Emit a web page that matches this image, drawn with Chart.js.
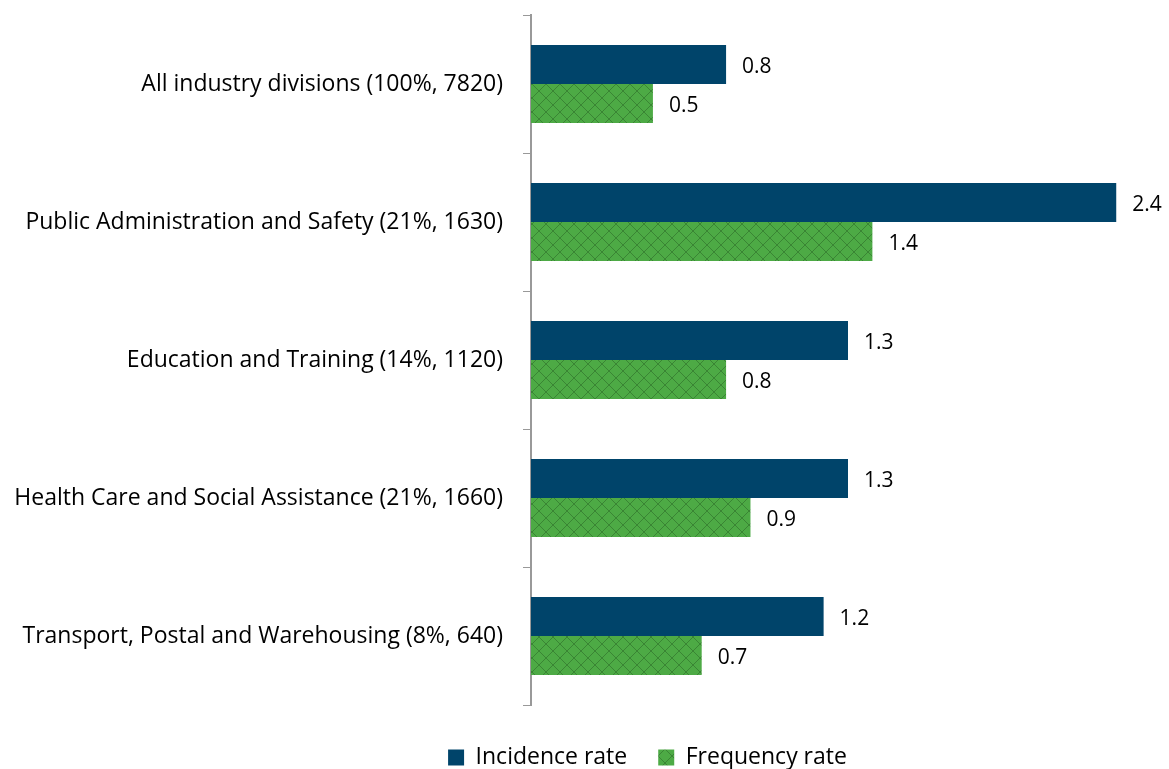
<!DOCTYPE html>
<html>
<head>
<meta charset="utf-8">
<script src="https://cdn.jsdelivr.net/npm/chart.js@4"></script>
<style>
  html, body { margin: 0; padding: 0; background: #fff; }
  #wrap { width: 1169px; height: 769px; }
</style>
</head>
<body>
<div id="wrap"><canvas id="myChart" width="1169" height="769"></canvas></div>
<script>
// data
const categories = [
  'All industry divisions (100%, 7820)',
  'Public Administration and Safety (21%, 1630)',
  'Education and Training (14%, 1120)',
  'Health Care and Social Assistance (21%, 1660)',
  'Transport, Postal and Warehousing (8%, 640)'
]
const incidenceRate = [0.8, 2.4, 1.3, 1.3, 1.2]
const frequencyRate = [0.5, 1.4, 0.8, 0.9, 0.7]

const FONT = '"Open Sans", sans-serif'

// green crosshatch fill
function hatch() {
  let s = 14
  let c = document.createElement('canvas')
  c.width = s; c.height = s
  let g = c.getContext('2d')
  g.fillStyle = '#4DAA45'
  g.fillRect(0, 0, s, s)
  g.strokeStyle = '#3A8534'
  g.lineWidth = 1
  g.beginPath()
  g.moveTo(0, 0); g.lineTo(s, s)
  g.moveTo(s, 0); g.lineTo(0, s)
  g.stroke()
  return g.createPattern(c, 'repeat')
}

// value labels to the right of each bar
const valueLabels = {
  id: 'valueLabels',
  afterDatasetsDraw(chart) {
    let ctx = chart.ctx
    ctx.save()
    ctx.font = '21px ' + FONT
    ctx.fillStyle = '#000'
    ctx.textBaseline = 'middle'
    chart.data.datasets.forEach((ds, i) => {
      chart.getDatasetMeta(i).data.forEach((bar, j) => {
        ctx.fillText(ds.data[j].toFixed(1), bar.x + 16, bar.y + 3)
      })
    })
    ctx.restore()
  }
}

// move the legend lower and to the right, like the original
const legendShift = {
  id: 'legendShift',
  afterUpdate(chart) {
    let lg = chart.legend
    lg.top += 10
    lg.bottom += 10
    lg.left += 65
    lg.right += 65
  }
}

let ctx = document.getElementById('myChart').getContext('2d')
let myChart = new Chart(ctx, {
  type: 'bar',
  data: {
    labels: categories,
    datasets: [{
      label: 'Incidence rate',
      backgroundColor: '#00446A',
      data: incidenceRate
    }, {
      label: 'Frequency rate',
      backgroundColor: hatch(),
      data: frequencyRate
    }]
  },
  options: {
    indexAxis: 'y',
    responsive: false,
    animation: false,
    layout: { padding: { top: 0, right: 4, left: 0, bottom: 0 } },
    datasets: { bar: { barPercentage: 1, categoryPercentage: 0.565 } },
    scales: {
      x: { display: false, min: 0, max: 2.6 },
      y: {
        afterFit(axis) {
          axis.width = 531
          axis.paddingTop = 15
          axis.paddingBottom = 0
        },
        grid: { drawOnChartArea: false, tickLength: 8, color: '#999', offset: true },
        border: { color: '#999', width: 2 },
        ticks: { color: '#000', font: { family: FONT, size: 23 }, padding: 20 }
      }
    },
    plugins: {
      legend: {
        position: 'bottom',
        labels: { color: '#000', font: { family: FONT, size: 23 }, boxWidth: 16, boxHeight: 16, padding: 31 }
      },
      tooltip: { enabled: false }
    }
  },
  plugins: [valueLabels, legendShift]
})
</script>
</body>
</html>
